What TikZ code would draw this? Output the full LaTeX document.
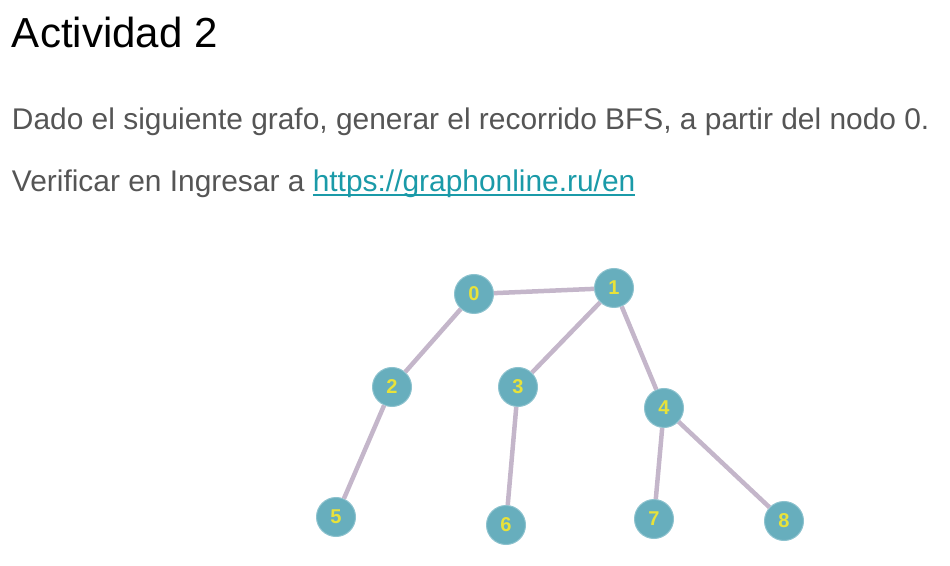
\documentclass[tikz,border=0pt]{standalone}
\usepackage{fontspec}
\setmainfont{Liberation Sans}
\definecolor{txtgray}{HTML}{555555}
\definecolor{linkteal}{HTML}{1A9AA8}
\definecolor{nodefill}{HTML}{67AEBD}
\definecolor{noderim}{HTML}{8CC2CE}
\definecolor{edgecol}{HTML}{C4B6CA}
\definecolor{numcol}{HTML}{E8E23A}
\newcommand\myulink[1]{\setbox0\hbox{#1}\rlap{\rule[-4.5pt]{\wd0}{2pt}}\box0}
\tikzset{
  txt/.style={anchor=base west, inner sep=0pt, outer sep=0pt},
  vert/.style={circle, minimum size=39pt, inner sep=0pt, fill=nodefill, draw=noderim, line width=1pt,
    text=numcol, font=\fontsize{20}{20}\selectfont\bfseries},
  edge/.style={draw=edgecol, line width=4.5pt}
}
\begin{document}
\begin{tikzpicture}[x=1pt,y=1pt]
\useasboundingbox (0,0) rectangle (950,565);
\node[txt, font=\fontsize{42}{42}\selectfont] (title) at (12,517) {Actividad 2};
\node[txt, font=\fontsize{29.9}{30}\selectfont, text=txtgray] (line1) at (12,435.5) {Dado el siguiente grafo, generar el recorrido BFS, a partir del nodo 0.};
\node[txt, font=\fontsize{29.9}{30}\selectfont, text=txtgray] (line2) at (12,373) {Verificar en Ingresar a \textcolor{linkteal}{\myulink{https://graphonline.ru/en}}};

\node[vert] (n0) at (474,271) {0};
\node[vert] (n1) at (614,277) {1};
\node[vert] (n2) at (392,178) {2};
\node[vert] (n3) at (518,178) {3};
\node[vert] (n4) at (664,157) {4};
\node[vert] (n5) at (336,48) {5};
\node[vert] (n6) at (506,40) {6};
\node[vert] (n7) at (654,46) {7};
\node[vert] (n8) at (784,44) {8};

\draw[edge] (n0) -- (n1);
\draw[edge] (n0) -- (n2);
\draw[edge] (n1) -- (n3);
\draw[edge] (n1) -- (n4);
\draw[edge] (n2) -- (n5);
\draw[edge] (n3) -- (n6);
\draw[edge] (n4) -- (n7);
\draw[edge] (n4) -- (n8);
\end{tikzpicture}
\end{document}
